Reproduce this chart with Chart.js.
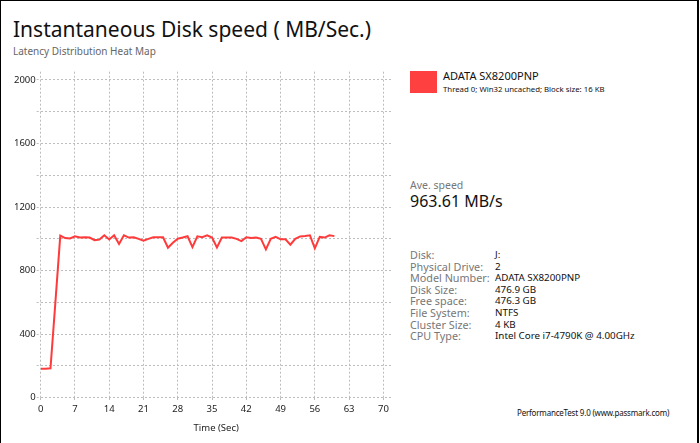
<!DOCTYPE html>
<html>
<head>
<meta charset="utf-8">
<script src="https://cdn.jsdelivr.net/npm/chart.js@4"></script>
<style>
  html, body { margin: 0; padding: 0; background: #fff; }
  body { width: 700px; height: 443px; position: relative; overflow: hidden;
         font-family: "Noto Sans", "Open Sans", sans-serif; color: #111; }
  .frame { position: absolute; left: 0; top: 0; width: 696px; height: 443px;
           border-left: 1px solid #000; border-top: 1px solid #000; border-right: 2px solid #000; }
  .abs { position: absolute; white-space: nowrap; }
  #title { left: 13px; top: 15px; font-size: 21px; }
  #subtitle { left: 13px; top: 44px; font-size: 10px; color: #666; }
  #swatch { left: 410px; top: 71px; width: 27px; height: 22px; background: #ff4040; }
  #drive { left: 443px; top: 68px; font-size: 11px; }
  #thread { left: 443px; top: 84px; font-size: 7.8px; }
  #aveLabel { left: 410px; top: 178px; font-size: 10.5px; color: #777; }
  #aveValue { left: 410px; top: 190px; font-size: 16px; }
  #info { left: 410px; top: 249px; font-size: 10.5px; border-collapse: collapse; }
  #info td { padding: 0; height: 11.6px; line-height: 11.6px; }
  #info td.k { color: #777; width: 85px; font-size: 10.8px; }
  #info td.v { font-size: 9.8px; }
  #footer { left: 517px; top: 407px; font-size: 8px; letter-spacing: -0.2px; }
  #chartBox { position: absolute; left: 0; top: 60px; width: 400px; height: 383px; }
</style>
</head>
<body>
<div class="frame"></div>
<div class="abs" id="title">Instantaneous Disk speed ( MB/Sec.)</div>
<div class="abs" id="subtitle">Latency Distribution Heat Map</div>
<div class="abs" id="swatch"></div>
<div class="abs" id="drive">ADATA SX8200PNP</div>
<div class="abs" id="thread">Thread 0; Win32 uncached; Block size: 16 KB</div>
<div class="abs" id="aveLabel">Ave. speed</div>
<div class="abs" id="aveValue">963.61 MB/s</div>
<table class="abs" id="info"><tbody></tbody></table>
<div class="abs" id="footer">PerformanceTest 9.0 (www.passmark.com)</div>
<div id="chartBox"><canvas id="speedChart" width="400" height="383"></canvas></div>

<script>
// ----------------------------
// DATA
// ----------------------------
const timeSec = [
  0, 1, 2, 3, 4, 5, 6, 7, 8, 9,
  10, 11, 12, 13, 14, 15, 16, 17, 18, 19,
  20, 21, 22, 23, 24, 25, 26, 27, 28, 29,
  30, 31, 32, 33, 34, 35, 36, 37, 38, 39,
  40, 41, 42, 43, 44, 45, 46, 47, 48, 49,
  50, 51, 52, 53, 54, 55, 56, 57, 58, 59, 60
];
const speedMBs = [
  182, 182, 185, 600, 1020, 1005, 1002, 1016, 1008, 1010,
  1008, 992, 995, 1022, 996, 1022, 968, 1022, 1008, 1010,
  1000, 988, 1000, 1010, 1010, 1010, 944, 975, 1001, 1008,
  1016, 948, 1016, 1010, 1022, 1008, 946, 1008, 1008, 1008,
  1000, 986, 1010, 1005, 1008, 1000, 934, 1000, 1012, 997,
  997, 963, 1000, 1015, 1018, 1022, 940, 1012, 1008, 1022, 1017
];
const xTicks = [0, 7, 14, 21, 28, 35, 42, 49, 56, 63, 70];
const yGrid = [0, 200, 400, 600, 800, 1000, 1200, 1400, 1600, 1800, 2000];
const yLabels = [0, 400, 800, 1200, 1600, 2000];

const infoKeys = ["Disk:", "Physical Drive:", "Model Number:", "Disk Size:", "Free space:", "File System:", "Cluster Size:", "CPU Type:"];
const infoVals = ["J:", "2", "ADATA SX8200PNP", "476.9 GB", "476.3 GB", "NTFS", "4 KB", "Intel Core i7-4790K @ 4.00GHz"];

// ----------------------------
// INFO TABLE
// ----------------------------
document.querySelector("#info tbody").innerHTML = infoKeys
  .map((k, i) => `<tr><td class="k">${k}</td><td class="v">${infoVals[i]}</td></tr>`)
  .join("");

// ----------------------------
// CHART
// ----------------------------
const gridColor = "#bdbdbd";
const tickFont = { family: "Noto Sans", size: 9.5 };

new Chart(document.getElementById("speedChart"), {
  type: "line",
  data: {
    datasets: [{
      data: timeSec.map((t, i) => ({ x: t, y: speedMBs[i] })),
      borderColor: "#ff3a3a",
      borderWidth: 2,
      pointRadius: 0,
      tension: 0,
      fill: false
    }]
  },
  options: {
    responsive: false,
    animation: false,
    layout: { padding: { top: 11.7, right: 8.3, left: 0, bottom: 0 } },
    plugins: { legend: { display: false }, tooltip: { enabled: false } },
    scales: {
      x: {
        type: "linear",
        min: 0,
        max: 71.7,
        afterBuildTicks: s => { s.ticks = xTicks.map(v => ({ value: v })); },
        afterFit: s => { s.height = 45.3; },
        ticks: { color: "#222", font: tickFont, padding: 2, maxRotation: 0 },
        grid: { color: gridColor, tickLength: 4, tickBorderDash: [2, 2] },
        border: { display: false, dash: [2, 2] },
        title: {
          display: true,
          text: "Time (Sec)",
          color: "#222",
          font: { family: "Noto Sans", size: 9.5 },
          padding: { top: 0, bottom: 9 }
        }
      },
      y: {
        min: 0,
        max: 2052,
        afterBuildTicks: s => { s.ticks = yGrid.map(v => ({ value: v })); },
        afterFit: s => { s.width = 40.7; },
        ticks: {
          color: "#222",
          font: tickFont,
          padding: 1,
          callback: v => (yLabels.includes(v) ? String(v) : "")
        },
        grid: { color: gridColor, tickLength: 4, tickBorderDash: [2, 2] },
        border: { display: false, dash: [2, 2] }
      }
    }
  }
});
</script>
</body>
</html>
